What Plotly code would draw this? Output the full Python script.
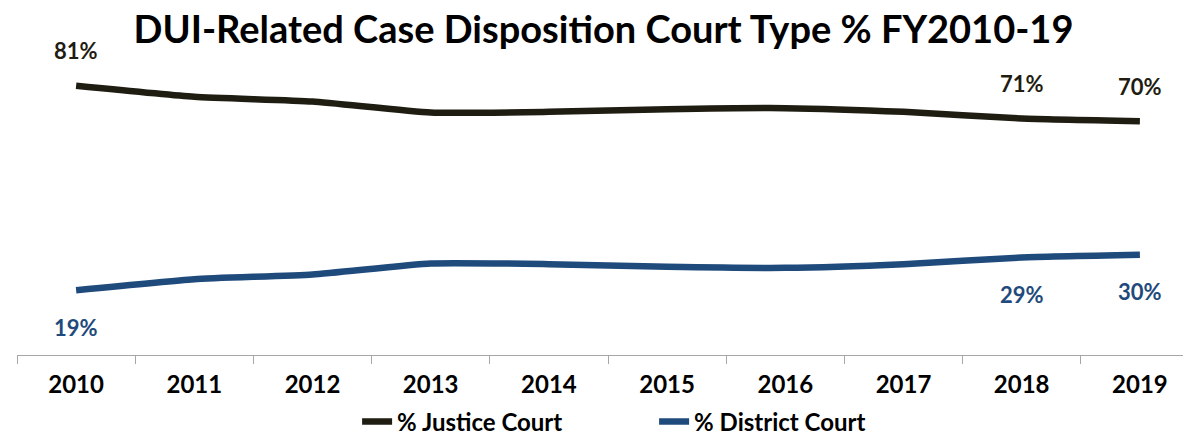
import plotly.graph_objects as go

years = ["2010", "2011", "2012", "2013", "2014", "2015", "2016", "2017", "2018", "2019"]
justice = [80.6, 77.3, 75.9, 72.6, 72.8, 73.6, 73.9, 72.8, 70.8, 70.0]
district = [19.4, 22.7, 24.1, 27.4, 27.2, 26.4, 26.1, 27.2, 29.2, 30.0]
labeled_years = ["2010", "2018", "2019"]

J_COLOR = "#1F1C11"
D_COLOR = "#1F4A7C"
FONT = "Lato"

fig = go.Figure()
fig.add_trace(go.Scatter(x=years, y=justice, mode="lines", name="% Justice Court",
                         line=dict(color=J_COLOR, width=6.5, shape="spline", smoothing=0.5)))
fig.add_trace(go.Scatter(x=years, y=district, mode="lines", name="% District Court",
                         line=dict(color=D_COLOR, width=6.5, shape="spline", smoothing=0.5)))

anns = []
for i, (yr, jv, dv) in enumerate(zip(years, justice, district)):
    if yr in labeled_years:
        anns.append(dict(x=i, y=jv, xref="x", yref="y", text=f"<b>{round(jv)}%</b>",
                         showarrow=False, yshift=35,
                         font=dict(family=FONT, size=22, color=J_COLOR)))
        anns.append(dict(x=i, y=dv, xref="x", yref="y", text=f"<b>{round(dv)}%</b>",
                         showarrow=False, yshift=-37,
                         font=dict(family=FONT, size=22, color=D_COLOR)))

fig.update_layout(
    width=1191, height=438,
    margin=dict(l=9, r=0, t=13, b=91, autoexpand=False),
    paper_bgcolor="white", plot_bgcolor="white",
    title=dict(text="<b>DUI-Related Case Disposition Court Type % FY2010-19</b>",
               x=0.5, xanchor="center", y=0.95, yanchor="middle",
               font=dict(family=FONT, size=38, color="black")),
    xaxis=dict(type="category", range=[-0.5, 9.5], autorange=False, automargin=False,
               showline=True, linecolor="#A6A6A6", linewidth=1.3,
               ticks="outside", tickson="boundaries", ticklen=8, tickcolor="#A6A6A6",
               tickwidth=1.3, showgrid=False, tickangle=0, ticklabelstandoff=8,
               tickfont=dict(family=FONT, size=24, color="black", weight="bold")),
    yaxis=dict(range=[0, 100], autorange=False, visible=False, showgrid=False, zeroline=False),
    showlegend=True,
    legend=dict(orientation="h", x=0.539, xanchor="center", yref="container", y=0.055,
                yanchor="middle",
                font=dict(family=FONT, size=24, color="black", weight="bold"),
                tracegroupgap=0, entrywidth=252, entrywidthmode="pixels"),
    annotations=anns,
)

fig.write_html("out.html")
